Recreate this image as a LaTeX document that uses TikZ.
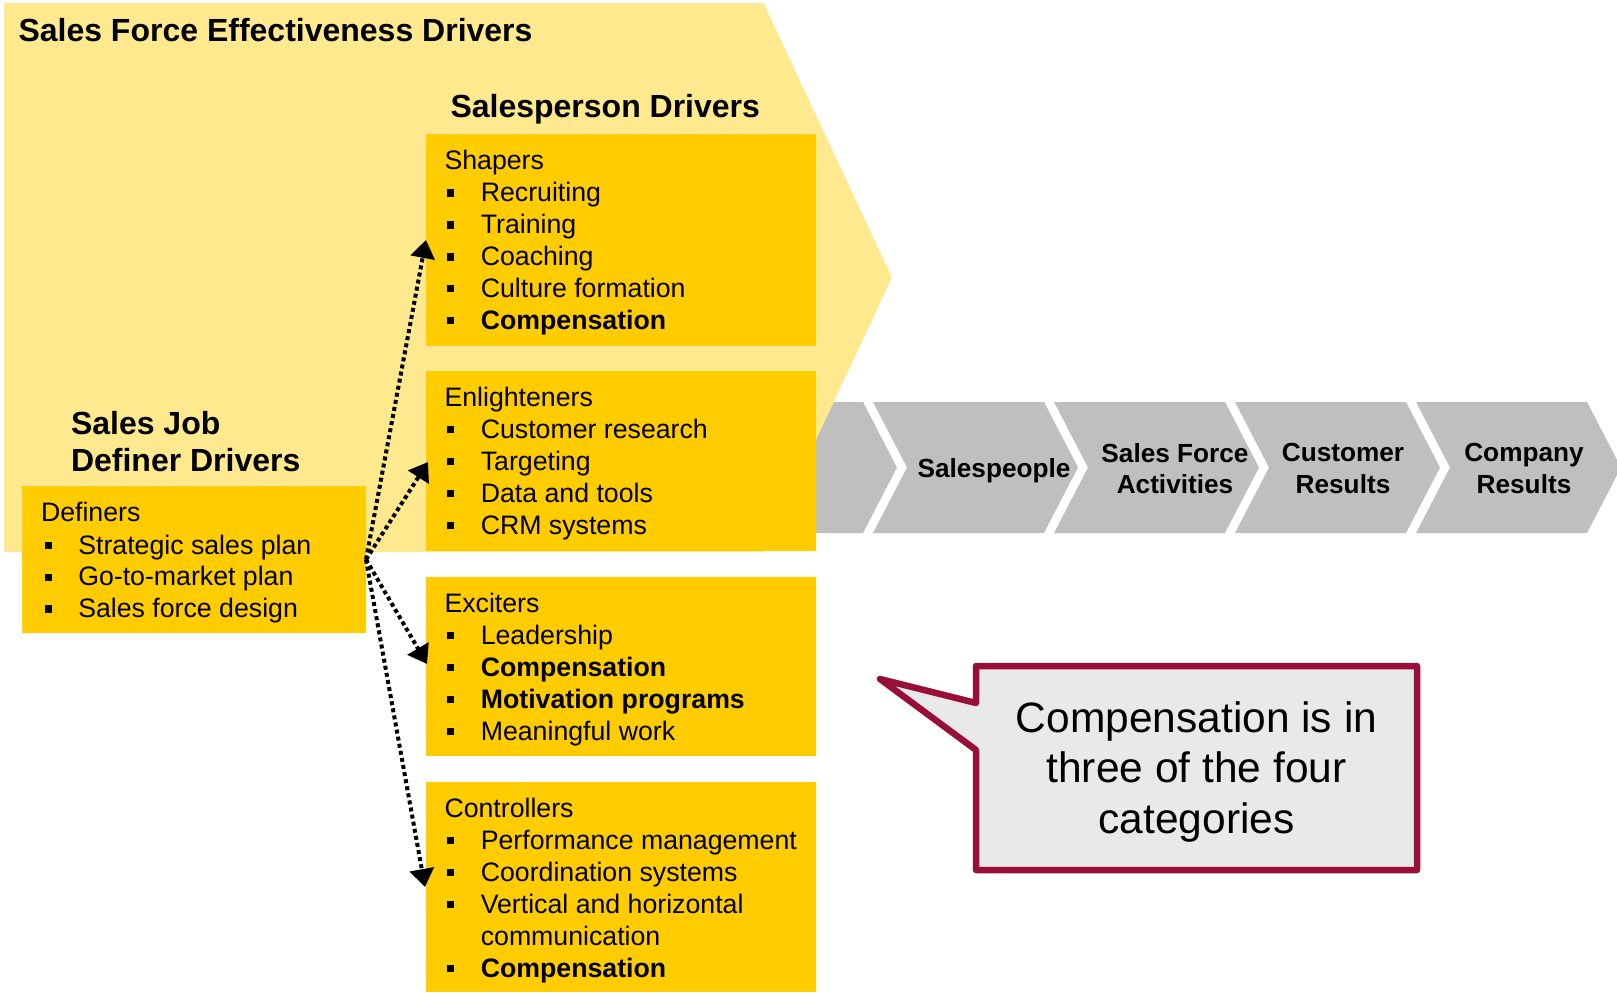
\documentclass[tikz,border=0pt]{standalone}
\usepackage{fontspec}
\setmainfont{Liberation Sans}
\usetikzlibrary{arrows.meta}

\definecolor{paleyellow}{RGB}{255,233,143}
\definecolor{gold}{RGB}{255,204,0}
\definecolor{chevgrey}{RGB}{191,191,191}
\definecolor{notefill}{RGB}{233,233,233}
\definecolor{noteedge}{RGB}{152,16,56}

% square bullet followed by the indent of a list entry
\newcommand\sqmark{\makebox[16.9pt][l]{\rule[2.5pt]{3.7pt}{3.7pt}}}

\tikzset{
  every node/.style={inner sep=0pt, outer sep=0pt},
  heading/.style={anchor=base west, font=\fontsize{16pt}{19pt}\selectfont\bfseries},
  listhead/.style={anchor=base west, font=\fontsize{13.35pt}{16pt}\selectfont},
  listitem/.style={anchor=base west, font=\fontsize{13.35pt}{16pt}\selectfont},
  driverbox/.style={fill=gold, anchor=north west},
  chevron/.style={fill=chevgrey},
  chevlabel/.style={align=center, font=\fontsize{13.1pt}{15.65pt}\selectfont\bfseries},
  link/.style={line width=2pt, dash pattern=on 2pt off 1.6pt,
    -{Triangle[length=9pt,width=12pt]}},
}

% #1 name prefix, #2 x of the bullet, #3 first baseline, #4 entries
\newcommand\itemlines[4]{%
  \foreach \txt [count=\k] in {#4}
    {\node[listitem] (#1\k) at (#2,{#3+31.9*(\k-1)}) {\sqmark\txt};}%
}

\begin{document}
\begin{tikzpicture}[x=0.5pt,y=-0.5pt]
\useasboundingbox (0,0) rectangle (1617,992);
\fill[white] (0,0) rectangle (1617,992);

% value chain chevrons
\fill[chevron] (690,402) -- (863,402) -- (897,467.5) -- (863,533) -- (690,533) -- cycle;
\foreach \L in {873,1054,1235,1416}
  \fill[chevron] (\L,402) -- ({\L+171},402) -- ({\L+205},467.5)
    -- ({\L+171},533) -- (\L,533) -- ({\L+34},467.5) -- cycle;
\node[chevlabel] (cv-people) at (994,470.5) {Salespeople};
\node[chevlabel] (cv-activity) at (1175,468.4) {Sales Force\\Activities};
\node[chevlabel] (cv-customer) at (1343,468.4) {Customer\\Results};
\node[chevlabel] (cv-company) at (1524,468.4) {Company\\Results};

% large pentagon arrow of all drivers
\fill[paleyellow] (4,3) -- (763.5,3) -- (892,277.5) -- (763.5,552) -- (4,552) -- cycle;

\node[heading] (sfe) at (18.5,41.7) {Sales Force Effectiveness Drivers};
\node[heading] (spd) at (450.5,117.7) {Salesperson Drivers};
\node[heading] (sjd1) at (71,434) {Sales Job};
\node[heading] (sjd2) at (71,471.7) {Definer Drivers};

% driver boxes
\node[driverbox, minimum width=172pt, minimum height=73.5pt] (definers) at (22,486) {};
\node[driverbox, minimum width=195pt, minimum height=106pt] (shapers) at (426,134) {};
\node[driverbox, minimum width=195pt, minimum height=90pt] (enlight) at (426,371) {};
\node[driverbox, minimum width=195pt, minimum height=89.5pt] (exciters) at (426,577) {};
\node[driverbox, minimum width=195pt, minimum height=105pt] (control) at (426,782) {};

\node[listhead] (def-h) at (41,521.7) {Definers};
\itemlines{def}{44.5}{554}{Strategic sales plan, Go-to-market plan, Sales force design}

\node[listhead] (shp-h) at (444.5,169.3) {Shapers};
\itemlines{shp}{447}{201.7}{Recruiting, Training, Coaching, Culture formation, {\bfseries Compensation}}

\node[listhead] (enl-h) at (444.5,406) {Enlighteners};
\itemlines{enl}{447}{438.3}{Customer research, Targeting, Data and tools, CRM systems}

\node[listhead] (exc-h) at (444.5,612.3) {Exciters};
\itemlines{exc}{447}{644.3}{Leadership, {\bfseries Compensation}, {\bfseries Motivation programs}, Meaningful work}

\node[listhead] (ctl-h) at (444.5,817.3) {Controllers};
\itemlines{ctl}{447}{849.2}{Performance management, Coordination systems, Vertical and horizontal}
\node[listitem] (ctl3b) at (480.8,945) {communication};
\node[listitem] (ctl4) at (447,977.2) {\sqmark\bfseries Compensation};

% links from the definers to the salesperson drivers
\coordinate (shp-in) at (426,240);
\coordinate (enl-in) at (428,462);
\coordinate (exc-in) at (427,664);
\coordinate (ctl-in) at (425,887);
\draw[link] (definers.east) -- (shp-in);
\draw[link] (definers.east) -- (enl-in);
\draw[link] (definers.east) -- (exc-in);
\draw[link] (definers.east) -- (ctl-in);

% speech bubble
\draw[line width=3.25pt, draw=noteedge, fill=notefill, line join=round]
  (976,666) -- (1417,666) -- (1417,870) -- (976,870) -- (976,750)
  -- (880,679) -- (976,703) -- cycle;
\node[align=center, font=\fontsize{21.25pt}{25.25pt}\selectfont] (note)
  at (1196.5,771.5) {Compensation is in\\three of the four\\categories};
\end{tikzpicture}
\end{document}
